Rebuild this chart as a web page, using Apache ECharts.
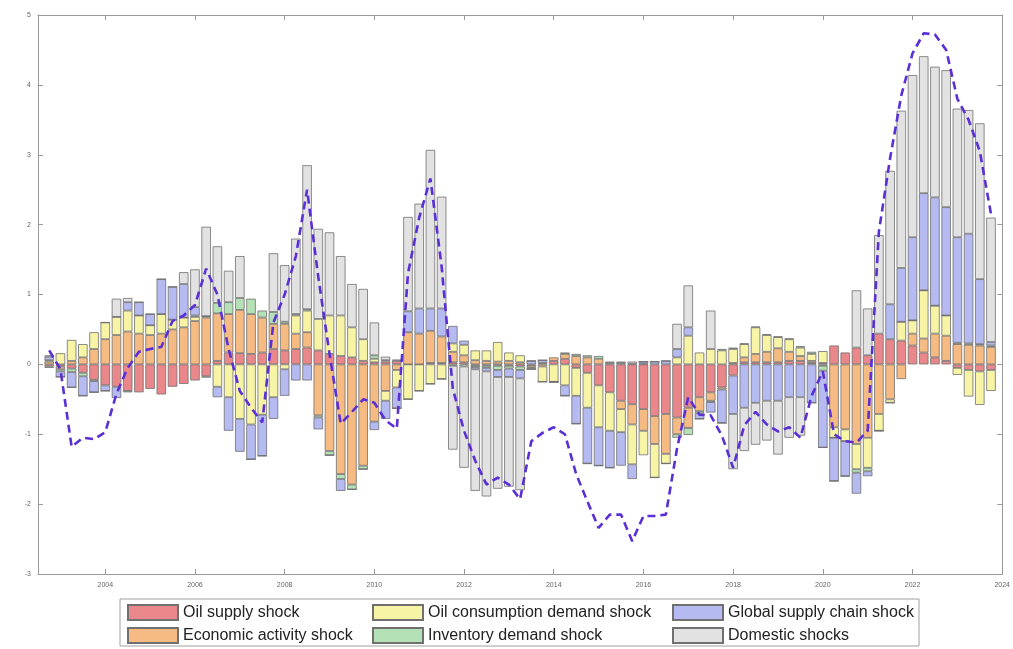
<!DOCTYPE html>
<html><head><meta charset="utf-8">
<script src="https://cdn.jsdelivr.net/npm/echarts@6/dist/echarts.min.js"></script>
<style>html,body{margin:0;padding:0;background:#fff}#c{width:1013px;height:649px}</style>
</head><body><div id="c"></div>
<script>
// Quarterly dates of the bars
const quarters = [2002.75,
 2003,2003.25,2003.5,2003.75, 2004,2004.25,2004.5,2004.75, 2005,2005.25,2005.5,2005.75,
 2006,2006.25,2006.5,2006.75, 2007,2007.25,2007.5,2007.75, 2008,2008.25,2008.5,2008.75,
 2009,2009.25,2009.5,2009.75, 2010,2010.25,2010.5,2010.75, 2011,2011.25,2011.5,2011.75,
 2012,2012.25,2012.5,2012.75, 2013,2013.25,2013.5,2013.75, 2014,2014.25,2014.5,2014.75,
 2015,2015.25,2015.5,2015.75, 2016,2016.25,2016.5,2016.75, 2017,2017.25,2017.5,2017.75,
 2018,2018.25,2018.5,2018.75, 2019,2019.25,2019.5,2019.75, 2020,2020.25,2020.5,2020.75,
 2021,2021.25,2021.5,2021.75, 2022,2022.25,2022.5,2022.75, 2023,2023.25,2023.5,2023.75];
const axisStart = 2002.5, axisEnd = 2024;
const xTicks = [2004,2006,2008,2010,2012,2014,2016,2018,2020,2022,2024];

const oilSupply = [-0.03,-0.03,-0.06,-0.12,-0.22,-0.3,-0.32,-0.38,-0.4,-0.35,
 -0.43,-0.32,-0.28,-0.23,-0.17,0.05,0.17,0.16,0.15,0.17,
 0.22,0.2,0.22,0.24,0.2,0.15,0.12,0.1,0.05,0.03,
 0.04,0.05,0,0,0.02,0.02,0.03,0.03,-0.02,-0.02,
 -0.02,-0.02,-0.03,-0.02,0.02,0.05,0.08,-0.05,-0.12,-0.3,
 -0.4,-0.52,-0.57,-0.64,-0.74,-0.71,-0.76,-0.62,-0.47,-0.4,
 -0.33,-0.16,0.03,0.03,0.03,0.03,0.05,0.05,0.02,0.02,
 0.27,0.17,0.24,0.13,0.44,0.36,0.34,0.27,0.17,0.1,
 0.05,-0.05,-0.08,-0.1,-0.08];

const economicActivity = [0.04,-0.04,0.05,0.1,0.22,0.36,0.42,0.47,0.44,0.42,
 0.44,0.5,0.53,0.62,0.67,0.68,0.55,0.62,0.57,0.5,
 0.36,0.38,0.22,0.22,-0.73,-1.24,-1.57,-1.72,-1.45,-0.82,
 -0.38,-0.08,0.46,0.44,0.46,0.38,0.15,0.1,0.06,0.05,
 0.04,0.05,0.03,-0.03,-0.03,0.05,0.07,0.12,0.1,0.08,
 0.02,-0.12,-0.29,-0.31,-0.4,-0.57,-0.24,-0.29,-0.2,-0.12,
 -0.03,0.02,0.07,0.12,0.15,0.2,0.13,0.07,0.03,-0.02,
 -0.9,-0.93,-1.14,-1.05,-0.71,-0.5,-0.21,0.17,0.2,0.34,
 0.36,0.29,0.28,0.27,0.25];

const oilConsumption = [0.02,0.16,0.3,0.19,0.24,0.24,0.26,0.3,0.26,0.14,
 0.28,0.14,0.14,0.06,-0.02,-0.32,-0.47,-0.78,-0.86,-0.72,
 -0.47,-0.07,0.26,0.31,0.45,0.55,0.58,0.43,0.31,0.05,
 -0.14,-0.25,-0.5,-0.38,-0.28,-0.21,0.12,0.15,0.14,0.15,
 0.28,0.12,0.1,-0.02,-0.22,-0.25,-0.3,-0.4,-0.5,-0.6,
 -0.55,-0.33,-0.57,-0.35,-0.48,-0.14,0.1,0.41,0.17,0.22,
 0.2,0.2,0.19,0.38,0.24,0.16,0.18,0.12,0.1,0.17,
 -0.15,-0.17,-0.36,-0.43,-0.24,-0.05,0.27,0.19,0.69,0.4,
 0.29,-0.1,-0.38,-0.48,-0.3];

const inventoryDemand = [-0.02,-0.03,-0.05,-0.05,-0.02,0,0,-0.02,0,0,
 0,0,0,0.02,0.02,0.15,0.17,0.17,0.22,0.1,
 0.17,0.03,0.02,0.02,-0.03,-0.06,-0.07,-0.07,-0.05,0.05,
 0.02,0.02,0,0,0,0,-0.02,-0.03,-0.02,-0.03,
 -0.06,-0.04,-0.05,0,0,0,0.02,0.03,0.03,0.04,
 0.02,0.02,0.01,0.01,0,0,-0.05,-0.1,-0.03,-0.02,
 0.02,0.02,0.01,0.01,0.01,0.01,0.01,0.02,0.03,-0.07,
 0,0,-0.05,-0.05,0,0,0,0,0,0,
 0,0.02,0.02,0.02,0.02];

const globalSupplyChain = [0.05,-0.08,-0.22,-0.28,-0.16,-0.08,-0.16,0.12,0.19,0.16,
 0.5,0.47,0.48,0.12,0,-0.15,-0.48,-0.47,-0.5,-0.59,
 -0.31,-0.38,-0.23,-0.23,-0.17,0,-0.17,0,0,-0.12,
 -0.26,-0.3,0.3,0.36,0.32,0.4,0.25,0.06,-0.03,-0.05,
 -0.1,-0.12,-0.12,0.05,0.04,0,-0.15,-0.4,-0.8,-0.55,
 -0.53,-0.48,-0.21,0.03,0.04,0.05,0.12,0.12,-0.08,-0.15,
 -0.48,-0.55,-0.62,-0.55,-0.52,-0.52,-0.47,-0.47,-0.55,-1.1,
 -0.62,-0.5,-0.3,-0.07,0,0.5,0.77,1.19,1.39,1.55,
 1.55,1.51,1.57,0.93,0.05];

const domestic = [0.02,0,0,0,0,0,0.26,0.06,0,0,
 0,0,0.17,0.54,1.28,0.81,0.45,0.6,0,0,
 0.84,0.81,1.08,2.06,1.29,1.19,0.85,0.62,0.72,0.47,
 0.05,0,1.35,1.5,2.27,1.6,-1.2,-1.45,-1.74,-1.79,
 -1.6,-1.57,-1.6,0,0,0,0,0,0,0,
 0,0.02,0.03,0,0,0,0.36,0.6,0,0.55,
 0,-0.79,-0.62,-0.6,-0.57,-0.77,-0.58,-0.55,0,0,
 0,0,0.82,0.67,1.41,1.91,2.25,2.32,1.96,1.87,
 1.96,1.84,1.77,2.23,1.78];

const total = [0.2,-0.07,-1.18,-1.05,-1.07,-0.97,-0.42,-0.05,0.18,0.22,
 0.25,0.62,0.7,0.85,1.37,1.0,0.22,-0.38,-0.62,-0.83,
 0.6,1.0,1.55,2.5,1.25,0.15,-0.85,-0.68,-0.5,-0.55,
 -0.8,-0.92,1.3,2.1,2.66,1.4,-0.35,-0.95,-1.38,-1.72,
 -1.62,-1.72,-1.93,-1.1,-0.98,-0.9,-1.0,-1.57,-1.96,-2.34,
 -2.15,-2.15,-2.53,-2.17,-2.17,-2.15,-1.2,-0.47,-0.72,-0.73,
 -1.02,-1.48,-0.87,-0.68,-0.86,-0.96,-0.9,-1.05,-0.45,-0.1,
 -1.0,-1.1,-1.12,-0.95,1.9,2.95,3.85,4.45,4.74,4.72,
 4.5,3.8,3.5,3.05,2.15];

const seriesDefs = [
  {name:'Oil supply shock', vals: oilSupply, color:'#e9878b'},
  {name:'Economic activity shock', vals: economicActivity, color:'#f5bb82'},
  {name:'Oil consumption demand shock', vals: oilConsumption, color:'#f7f4a6'},
  {name:'Inventory demand shock', vals: inventoryDemand, color:'#b4e2b6'},
  {name:'Global supply chain shock', vals: globalSupplyChain, color:'#b5baf1'},
  {name:'Domestic shocks', vals: domestic, color:'#e2e2e2'}
];

// Category axis: axis ends + every quarter; bars sit on category points (boundaryGap false)
const categories = [axisStart].concat(quarters, [axisEnd]).map(String);
const pad = vals => [null].concat(vals, [null]);
const isTick = (idx, val) => xTicks.indexOf(Number(val)) >= 0;

const chart = echarts.init(document.getElementById('c'), null, {renderer:'canvas'});
const axisColor = '#9a9a9a';
const labelStyle = {fontSize:7, color:'#666', fontFamily:'Liberation Sans'};

const series = seriesDefs.map(s => ({
  name: s.name, type:'bar', stack:'all', stackStrategy:'samesign',
  barWidth: 9.5, xAxisIndex:0, yAxisIndex:0,
  itemStyle:{color:s.color, borderColor:'#707070', borderWidth:0.8},
  emphasis:{disabled:true},
  data: pad(s.vals)
}));
series.push({
  name:'Total', type:'line', xAxisIndex:0, yAxisIndex:0, symbol:'none', z:10,
  lineStyle:{color:'#5a30d6', width:2.6, type:[8,5]},
  data: pad(total)
});

const legendText = {fontSize:16, color:'#222', fontFamily:'Liberation Sans'};
function mkLegend(names, left){
  return {data:names, orient:'vertical', left:left, top:604, itemWidth:50, itemHeight:15,
    itemGap:6, icon:'rect', selectedMode:false, textStyle:legendText, padding:0};
}
function catAxis(pos, showLabel){
  return {type:'category', data:categories, boundaryGap:false, position:pos,
    axisLine:{onZero:false, lineStyle:{color:axisColor, width:1}},
    axisTick:{inside:true, length:5, interval:isTick, lineStyle:{color:axisColor}},
    axisLabel:Object.assign({show:showLabel, interval:isTick, margin:8}, labelStyle),
    splitLine:{show:false}};
}
function valAxis(pos, showLabel){
  return {type:'value', min:-3, max:5, interval:1, position:pos,
    axisLine:{show:true, lineStyle:{color:axisColor, width:1}},
    axisTick:{show:true, inside:true, length:5, lineStyle:{color:axisColor}},
    axisLabel:Object.assign({show:showLabel, margin:7}, labelStyle), splitLine:{show:false}};
}

chart.setOption({
  animation:false,
  backgroundColor:'#fff',
  grid:{left:38, right:8, top:15, bottom:75, containLabel:false},
  xAxis:[catAxis('bottom', true), catAxis('top', false)],
  yAxis:[valAxis('left', true), valAxis('right', false)],
  legend:[
    mkLegend(['Oil supply shock','Economic activity shock'], 127),
    mkLegend(['Oil consumption demand shock','Inventory demand shock'], 372),
    mkLegend(['Global supply chain shock','Domestic shocks'], 672)
  ],
  graphic:[{type:'rect', z:-1, shape:{x:120, y:599, width:799, height:47},
    style:{fill:'#fff', stroke:'#a0a0a0', lineWidth:1}}],
  series: series
});
</script></body></html>
